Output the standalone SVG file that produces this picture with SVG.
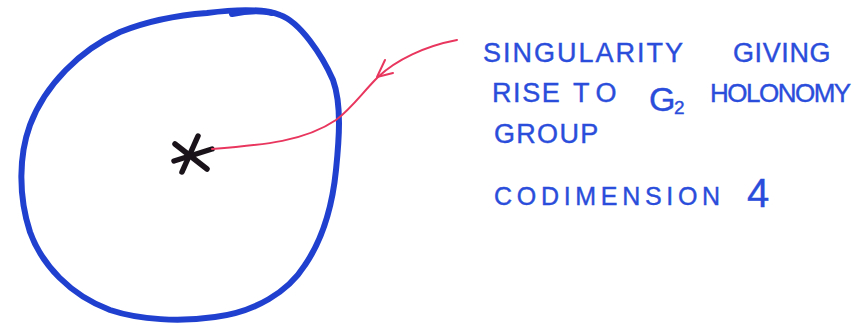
<svg xmlns="http://www.w3.org/2000/svg" width="862" height="326" viewBox="0 0 862 326">
<style>
.lbl{font-family:"Liberation Sans","DejaVu Sans",sans-serif;fill:#2a4ddb;stroke:#2a4ddb;stroke-width:0.4px;font-size:27px;}
.loop{fill:none;stroke:#2040d0;stroke-width:6;stroke-linecap:round;stroke-linejoin:round;}
.arrow{fill:none;stroke:#e8365e;stroke-width:2;stroke-linecap:round;stroke-linejoin:round;}
.star{stroke:#1a141a;stroke-width:5.5;stroke-linecap:round;}
</style>
<rect width="862" height="326" fill="#ffffff"/>
<g id="region">
<path class="loop" d="M207,13 C230,10 262,8 280,15 C300,22 322,55 333,80 C342,105 339,140 336,170 C332,210 322,240 305,265 C288,292 255,312 215,317 C180,322 140,320 110,310 C70,295 42,265 30,232 C18,195 19,155 30,125 C45,85 80,50 120,32 C150,20 180,15 207,13 Z"/>
<path class="loop" d="M232,14 C250,10 265,11 272,13" stroke-width="3"/>
</g>
<g id="singularity">
<line class="star" x1="198" y1="136" x2="182" y2="172"/>
<line class="star" x1="175" y1="144" x2="207" y2="169"/>
<line class="star" x1="174" y1="161" x2="212" y2="149"/>
</g>
<g id="connectors">
<path class="arrow" d="M457,40 C425,46 396,60 378,77 C362,93 352,108 336,120 C305,141 265,145 212,149"/>
<path class="arrow" d="M385,60 L377,77 L393,73"/>
</g>
<g id="label">
<text class="lbl"><tspan x="483" y="62" style="letter-spacing:2px">SINGULARITY</tspan> <tspan x="733" y="62" style="letter-spacing:0.6px">GIVING</tspan></text>
<text class="lbl"><tspan x="492" y="102" style="letter-spacing:1.6px">RISE</tspan> <tspan x="573" y="102" style="letter-spacing:6.5px">TO</tspan> <tspan x="649" y="111" style="font-size:34px">G</tspan><tspan x="674" y="114" style="font-size:19px">2</tspan> <tspan x="710" y="102" style="font-size:26px;letter-spacing:-1.5px">HOLONOMY</tspan></text>
<text class="lbl"><tspan x="494" y="143" style="letter-spacing:1.3px">GROUP</tspan></text>
</g>
<g id="codim">
<text class="lbl"><tspan x="494" y="205" style="font-size:25px;letter-spacing:4.7px">CODIMENSION</tspan> <tspan x="747" y="207" style="font-size:40px">4</tspan></text>
</g>
</svg>
